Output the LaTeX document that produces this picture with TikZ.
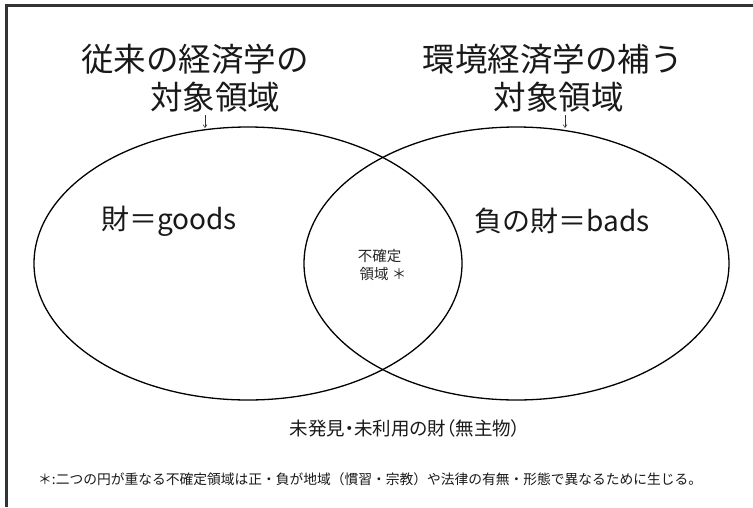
\documentclass[tikz,border=0pt]{standalone}
\usepackage{fontspec}
\setmainfont{Noto Sans CJK JP}
\usetikzlibrary{shapes.geometric,arrows.meta}
\tikzset{
  setbox/.style={draw=black, line width=1.3pt, ellipse, inner sep=0pt, minimum width=428pt, minimum height=273pt},
  setboxr/.style={setbox, minimum width=425pt},
  titletxt/.style={inner sep=0pt, text=black!90, font=\fontsize{32.5}{38}\selectfont},
  labeltxt/.style={inner sep=0pt, text=black!90, font=\fontsize{28}{32}\selectfont},
  smalltxt/.style={inner sep=0pt, text=black!85, font=\fontsize{14.5}{17}\selectfont},
  bottomtxt/.style={inner sep=0pt, text=black!90, font=\fontsize{18.5}{22}\selectfont\addfontfeatures{RawFeature=+palt}},
  notetxt/.style={inner sep=0pt, text=black!90, font=\fontsize{13.75}{16}\selectfont},
  pointer/.style={-{Straight Barb[length=3pt,width=4pt]}, line width=0.5pt, black!80},
  frameline/.style={line width=3pt, black!80}
}
\begin{document}
\begin{tikzpicture}[x=1pt,y=-1pt]
\useasboundingbox (0,0) rectangle (753,507);
\fill[white] (0,0) rectangle (753,507);
% frame
\draw[frameline] (6,507) -- (6,5) -- (753,5);
% sets
\node[setbox]  (L) at (248,263.5) {};
\node[setboxr] (R) at (516.5,263.5) {};
% titles
\node[titletxt] (t1a) at (195,59) {従来の経済学の};
\node[titletxt] (t1b) at (215,97.5) {対象領域};
\node[titletxt] (t2a) at (552.5,59) {環境経済学の補う};
\node[titletxt] (t2b) at (558.5,97.5) {対象領域};
% pointers
\coordinate (p1s) at (205,115);
\coordinate (p1e) at (205,128);
\coordinate (p2s) at (565,115);
\coordinate (p2e) at (565,128);
\draw[pointer] (p1s) -- (p1e);
\draw[pointer] (p2s) -- (p2e);
% labels
\node[labeltxt] (goods) at (169,221) {財＝goods};
\node[labeltxt] (bads) at (562.5,221) {負の財＝bads};
\node[smalltxt] (u1) at (379.5,256) {不確定};
\node[smalltxt] (u2) at (383,274.5) {領域 ＊};
\node[bottomtxt] (free) at (405,428) {未発見・未利用の財（無主物）};
\node[notetxt, anchor=west] (note) at (38,479) {＊:二つの円が重なる不確定領域は正・負が地域（慣習・宗教）や法律の有無・形態で異なるために生じる。};
\end{tikzpicture}
\end{document}
